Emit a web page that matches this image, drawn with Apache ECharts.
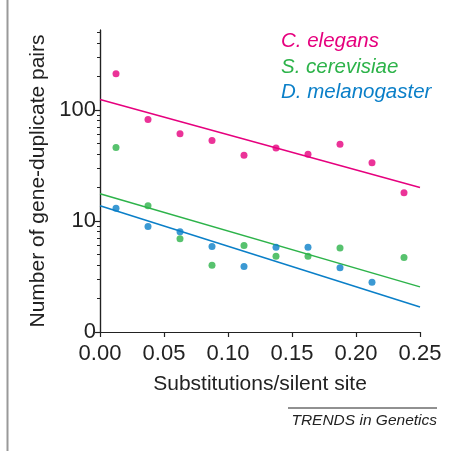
<!DOCTYPE html>
<html>
<head>
<meta charset="utf-8">
<script src="https://cdn.jsdelivr.net/npm/echarts@6/dist/echarts.min.js"></script>
<style>
  html, body { margin: 0; padding: 0; background: #fff; }
  #chart { width: 454px; height: 451px; }
</style>
</head>
<body>
<div id="chart"></div>
<script>
// values
var xPos = [0.0125, 0.0375, 0.0625, 0.0875, 0.1125, 0.1375, 0.1625, 0.1875, 0.2125, 0.2375];
var elegans = [212, 82, 61, 53, 39, 45.5, 40, 49, 33.5, 18];
var cerevisiae = [46, 13.7, 6.9, 4, 6, 4.8, 4.8, 5.7, null, 4.7];
var melanogaster = [13, 8.9, 8, 5.9, 3.9, 5.8, 5.8, 3.8, 2.8, null];

// regression lines, ends at x = 0 and x = 0.25
var fitX = [0, 0.25];
var elegansFit = [124, 20];
var cerevisiaeFit = [17.6, 2.55];
var melanogasterFit = [13.7, 1.68];

var yTickValues = [1, 10, 100];
var yMinorValues = [2, 3, 4, 5, 6, 7, 8, 9, 20, 30, 40, 50, 60, 70, 80, 90, 200, 300, 400, 500];
var xTickValues = [0, 0.05, 0.1, 0.15, 0.2, 0.25];

var names = ['C. elegans', 'S. cerevisiae', 'D. melanogaster'];
var colors = ['#e6007e', '#2db34a', '#0a7fc8'];

var font = 'Liberation Sans, Arial, Helvetica, sans-serif';

function pairs (xs, ys) {
    var out = [];
    ys.forEach(function (v, i) {
        if (v !== null) out.push([xs[i], v]);
    });
    return out;
}

var chart = echarts.init(document.getElementById('chart'));

var axisLine = { lineStyle: { color: '#222', width: 1.2 } };
var yBase = {
    type: 'log',
    logBase: 10,
    min: 1,
    max: 525,
    splitLine: { show: false },
    axisLine: axisLine
};

var series = [];
[elegans, cerevisiae, melanogaster].forEach(function (d, i) {
    series.push({
        name: names[i],
        type: 'scatter',
        data: pairs(xPos, d),
        symbolSize: 7,
        itemStyle: { color: colors[i] },
        z: 3
    });
});
[elegansFit, cerevisiaeFit, melanogasterFit].forEach(function (d, i) {
    series.push({
        type: 'line',
        data: pairs(fitX, d),
        symbol: 'none',
        lineStyle: { color: colors[i], width: 1.5 },
        z: 2
    });
});

var option = {
    animation: false,
    backgroundColor: '#fff',
    grid: { left: 100, top: 30, width: 320, height: 302 },
    xAxis: {
        type: 'value',
        min: 0,
        max: 0.25,
        interval: 0.05,
        name: 'Substitutions/silent site',
        nameLocation: 'middle',
        nameGap: 42,
        nameTextStyle: { fontFamily: font, fontSize: 21, color: '#222' },
        splitLine: { show: false },
        axisLine: axisLine,
        axisTick: { length: 5, lineStyle: { color: '#222', width: 1.2 } },
        axisLabel: {
            fontFamily: font, fontSize: 22, color: '#222', margin: 11,
            customValues: xTickValues,
            formatter: function (v) { return v.toFixed(2); }
        }
    },
    yAxis: [
        Object.assign({}, yBase, {
            name: 'Number of gene-duplicate pairs',
            nameLocation: 'middle',
            nameGap: 50,
            nameTextStyle: { fontFamily: font, fontSize: 21, color: '#222' },
            axisTick: { length: 5, customValues: yTickValues, lineStyle: { color: '#222', width: 1.2 } },
            axisLabel: {
                fontFamily: font, fontSize: 22, color: '#222', margin: 4,
                customValues: yTickValues,
                formatter: function (v) { return v === 1 ? '0' : String(v); }
            }
        }),
        Object.assign({}, yBase, {
            position: 'left',
            axisTick: { length: 3, customValues: yMinorValues, lineStyle: { color: '#222', width: 1 } },
            axisLabel: { show: false }
        })
    ],
    graphic: [
        { type: 'line', shape: { x1: 7.5, y1: 0, x2: 7.5, y2: 451 }, style: { stroke: '#999', lineWidth: 2 } },
        { type: 'text', left: 281, top: 31, style: { text: names[0], fill: colors[0], font: 'italic 20.5px ' + font } },
        { type: 'text', left: 281, top: 57, style: { text: names[1], fill: colors[1], font: 'italic 20.5px ' + font } },
        { type: 'text', left: 281, top: 82, style: { text: names[2], fill: colors[2], font: 'italic 20.5px ' + font } },
        { type: 'line', shape: { x1: 288, y1: 408, x2: 437, y2: 408 }, style: { stroke: '#222', lineWidth: 1 } },
        { type: 'text', right: 17, top: 413, style: { text: 'TRENDS in Genetics', fill: '#222', font: 'italic 15.5px ' + font } }
    ],
    series: series
};

chart.setOption(option);
</script>
</body>
</html>
